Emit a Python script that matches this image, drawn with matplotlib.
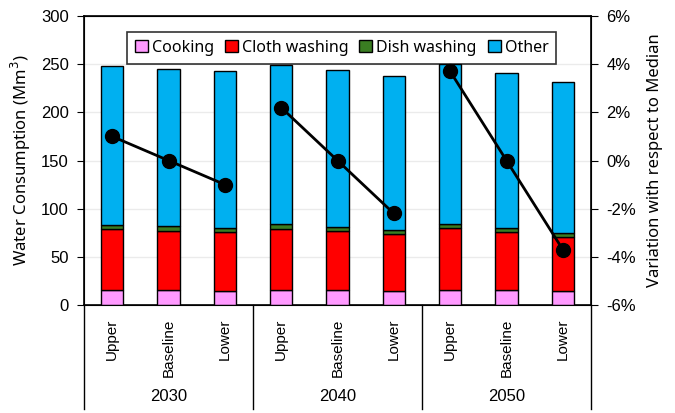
import numpy as np
import matplotlib.pyplot as plt
from matplotlib.lines import Line2D

# data
years = ['2030', '2040', '2050']
scenarios = ['Upper', 'Baseline', 'Lower']
cooking = [15.5, 15.5, 15.0, 15.5, 15.5, 15.0, 15.5, 15.5, 14.5]
cloth = [63.0, 61.5, 60.4, 63.7, 61.0, 58.3, 64.0, 60.0, 56.0]
dish = [4.5, 4.5, 4.5, 4.5, 4.3, 4.4, 4.7, 4.3, 4.4]
other = [165.0, 163.5, 163.1, 165.3, 163.2, 160.3, 165.8, 161.2, 157.1]
variation = [1.0, 0.0, -1.0, 2.2, 0.0, -2.2, 3.7, 0.0, -3.7]

series = [('Cooking', cooking, '#FF99FF'),
          ('Cloth washing', cloth, '#FF0000'),
          ('Dish washing', dish, '#3A7D22'),
          ('Other', other, '#00B0F0')]

plt.rcParams['font.family'] = ['Liberation Sans', 'DejaVu Sans']

fig = plt.figure(figsize=(6.75, 4.13), dpi=100)
ax = fig.add_axes([84/675, 1-305/413, 507/675, 289/413])

x = np.arange(len(cooking))
bottom = np.zeros(len(x))
for name, vals, col in series:
    ax.bar(x, vals, width=0.4, bottom=bottom, color=col, edgecolor='black',
           linewidth=1, label=name, zorder=3)
    bottom += np.array(vals)

ax.set_xlim(-0.5, len(x) - 0.5)
ax.set_ylim(0, 300)
ax.set_yticks(np.arange(0, 301, 50))
ax.yaxis.grid(True, color='#EBEBEB', linewidth=1, zorder=0)
ax.set_ylabel('Water Consumption (Mm$^3$)', fontsize=12, family='Noto Sans',
              labelpad=6)
ax.tick_params(axis='y', labelsize=12, direction='out', length=5, pad=6)
ax.set_xticks(x)
ax.set_xticklabels(scenarios * 3, rotation=90, fontsize=11, va='top')
ax.tick_params(axis='x', length=0, pad=10)
for s in ax.spines.values():
    s.set_linewidth(1.2)

# secondary axis with variation line
ax2 = ax.twinx()
ax2.set_ylim(-6, 6)
ax2.set_yticks(np.arange(-6, 7, 2))
ax2.set_yticklabels([f'{v}%' for v in range(-6, 7, 2)])
ax2.tick_params(axis='y', labelsize=12, direction='out', length=5, pad=6)
ax2.set_ylabel('Variation with respect to Median', fontsize=12,
               family='Noto Sans', labelpad=8)
for g in range(3):
    idx = slice(3*g, 3*g + 3)
    ax2.plot(x[idx], variation[idx], color='black', lw=2, marker='o',
             markersize=10, zorder=5)

# group labels and separators under the axis
for g in range(4):
    xs = g * 3 / 9
    ax.add_line(Line2D([xs, xs], [0, -0.36], transform=ax.transAxes,
                       color='black', lw=1, clip_on=False))
for g, yr in enumerate(years):
    ax.text((3*g + 1.5) / 9, -0.315, yr, transform=ax.transAxes,
            ha='center', va='center', fontsize=12)

leg = ax.legend(loc='upper center', bbox_to_anchor=(0.508, 0.973), ncol=4,
                fontsize=11.5, frameon=True, fancybox=False, edgecolor='black',
                handlelength=0.8, handleheight=0.8, handletextpad=0.25,
                columnspacing=0.7, borderpad=0.5)
leg.get_frame().set_linewidth(1.2)
leg.set_zorder(10)
for t in leg.get_texts():
    t.set_family('Noto Sans')

fig.savefig('out.png', dpi=100)
